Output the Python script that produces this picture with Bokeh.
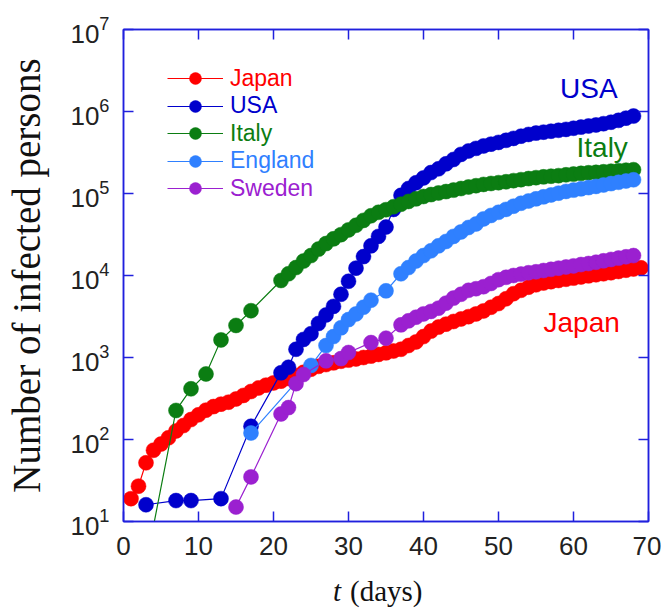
from bokeh.plotting import figure
from bokeh.layouts import column
from bokeh.models import (Legend, LegendItem, Label, LinearAxis, LogAxis,
                          FixedTicker, CustomJSTickFormatter, Range1d)
from bokeh.core.properties import value
from bokeh.embed import file_html
from bokeh.resources import INLINE

# ---------------- data ----------------
x_ticks = [0, 10, 20, 30, 40, 50, 60, 70]

japan_t = list(range(1, 70))
japan_n = [19, 27, 52, 74, 88, 105, 127, 148, 175, 200,
           228, 252, 270, 285, 312, 345, 385, 425, 460, 490,
           515, 555, 600, 660, 720, 780, 820, 860, 900, 930,
           960, 1000, 1040, 1090, 1140, 1200, 1260, 1400, 1550, 1800,
           2100, 2350, 2550, 2750, 2950, 3150, 3400, 3700, 4100, 4550,
           5200, 6000, 6600, 7200, 7700, 8100, 8400, 8700, 9000, 9300,
           9600, 9900, 10200, 10500, 10800, 11200, 11600, 12000, 12400]

usa_t = [3, 7, 9, 13, 17] + list(range(21, 69))
usa_n = [16, 18, 18, 19, 145,
         650, 760, 1260, 1660, 1950, 2600, 3300, 4200, 5900, 8500,
         12300, 17000, 23000, 30000, 39000, 64000, 95000, 115000, 135000, 155000,
         180000, 200000, 230000, 260000, 300000, 330000, 355000, 380000, 400000, 420000,
         445000, 470000, 500000, 525000, 545000, 560000, 575000, 590000, 605000, 625000,
         645000, 665000, 685000, 710000, 740000, 780000, 830000, 880000]

italy_t = [3, 7, 9, 11, 13, 15, 17] + list(range(21, 69))
italy_n = [3, 226, 415, 630, 1640, 2460, 3720,
           8700, 10500, 12500, 15000, 17500, 21000, 24500, 28000, 31500, 36000,
           41000, 47000, 53500, 59000, 63500, 69000, 74000, 80000, 86000, 92000,
           97000, 101500, 105500, 110000, 115000, 120000, 124500, 129000, 132500, 135500,
           139000, 143500, 147500, 152000, 156000, 159500, 162500, 165000, 169000, 172500,
           176000, 179000, 181000, 184000, 187000, 190000, 192500, 195000]

england_t = [17, 25, 27, 28, 29, 30, 31, 32, 33, 35, 37] + list(range(38, 69))
england_n = [120, 800, 1400, 1800, 2300, 2900, 3400, 4100, 5000, 6500, 10500,
             12500, 15000, 17500, 20000, 23000, 26000, 30000, 34000, 38500, 42500,
             49000, 54000, 59000, 64000, 70000, 76000, 81000, 86000, 91000, 96000,
             101000, 106000, 110000, 114000, 118000, 122000, 127000, 132000, 137000, 142000,
             147000]

sweden_t = [15, 17, 21, 22, 23, 24, 27, 29, 30, 33, 35] + list(range(37, 69))
sweden_n = [15, 35, 205, 245, 480, 620, 910, 970, 1150, 1520, 1720,
            2500, 2800, 3100, 3400, 3650, 4000, 4600, 5300, 5900, 6600,
            6900, 7300, 8000, 8900, 9500, 10000, 10400, 10800, 11100, 11500,
            11900, 12300, 12700, 13100, 13600, 14000, 14500, 15100, 15700, 16300,
            16900, 17500]

names = ["Japan", "USA", "Italy", "England", "Sweden"]
colors = ["#ff0000", "#0000cc", "#0b7d12", "#2f80ff", "#9b20d0"]
series = [(japan_t, japan_n), (usa_t, usa_n), (italy_t, italy_n),
          (england_t, england_n), (sweden_t, sweden_n)]

# ---------------- main figure ----------------
frame_color = "#2020dd"
sans = "Liberation Sans"
serif = "Liberation Serif"

x_range = Range1d(0, 70)
p = figure(frame_width=525, frame_height=492, x_range=x_range, y_range=(10, 1e7),
           y_axis_type="log", output_backend="svg", toolbar_location=None,
           title=None,
           min_border_left=123, min_border_right=13, min_border_top=29,
           min_border_bottom=45)
p.xgrid.visible = False
p.ygrid.visible = False
p.outline_line_color = frame_color
p.outline_line_width = 1.5
p.background_fill_color = "white"
p.border_fill_color = "white"

p.xaxis.ticker = FixedTicker(ticks=x_ticks)
for ax in (p.xaxis[0], p.yaxis[0]):
    ax.axis_line_color = frame_color
    ax.axis_line_width = 1.5
    ax.major_tick_in = 10
    ax.major_tick_out = 0
    ax.major_tick_line_color = frame_color
    ax.major_tick_line_width = 1.5
    ax.minor_tick_line_color = None
    ax.major_label_text_font = sans
    ax.major_label_text_font_size = "26px"
    ax.major_label_text_color = "#222222"
p.xaxis.major_label_standoff = 15
p.yaxis.major_label_standoff = 10
p.yaxis.axis_label = "Number of infected persons"
p.yaxis.axis_label_text_font = serif
p.yaxis.axis_label_text_font_style = "normal"
p.yaxis.axis_label_text_font_size = "39px"
p.yaxis.axis_label_text_color = "#111111"
p.yaxis.axis_label_standoff = 19

blank = CustomJSTickFormatter(code="return ''")
top_ax = LinearAxis(ticker=FixedTicker(ticks=x_ticks), formatter=blank)
right_ax = LogAxis(formatter=blank)
for ax in (top_ax, right_ax):
    ax.axis_line_color = frame_color
    ax.axis_line_width = 1.5
    ax.major_tick_in = 10
    ax.major_tick_out = 0
    ax.major_tick_line_color = frame_color
    ax.major_tick_line_width = 1.5
    ax.minor_tick_line_color = None
    ax.major_label_text_font_size = "0px"
    ax.major_label_standoff = 0
p.add_layout(top_ax, "above")
p.add_layout(right_ax, "right")

# ---------------- series ----------------
renderers = []
for (t, n), c in zip(series, colors):
    ln = p.line(t, n, line_color=c, line_width=1.2)
    sc = p.scatter(t, n, size=15, fill_color=c, line_color=c, line_width=0.5)
    renderers.append([ln, sc])

# ---------------- legend (one per entry, coloured text) ----------------
for i, (nm, c, rs) in enumerate(zip(names, colors, renderers)):
    lg = Legend(items=[LegendItem(label=nm, renderers=rs)],
                location=(44, 428 - 27.6 * i),
                padding=0, margin=0, spacing=0,
                glyph_width=56, glyph_height=30, label_height=30,
                label_standoff=7, label_text_font=sans,
                label_text_font_size="23px", label_text_color=c,
                border_line_color=None, background_fill_alpha=0)
    p.add_layout(lg)

# ---------------- annotations ----------------
p.add_layout(Label(x=58.2, y=1.92e6, text="USA", text_color=colors[1],
                   text_font=sans, text_font_size="28px",
                   text_baseline="alphabetic"))
p.add_layout(Label(x=60.4, y=3.6e5, text="Italy", text_color=colors[2],
                   text_font=sans, text_font_size="28px",
                   text_baseline="alphabetic"))
p.add_layout(Label(x=56.0, y=2700, text="Japan", text_color=colors[0],
                   text_font=sans, text_font_size="28px",
                   text_baseline="alphabetic"))

# ---------------- x-axis title strip ("t" italic + "(days)") ----------------
q = figure(frame_width=525, frame_height=42, x_range=x_range, y_range=(0, 42),
           x_axis_location=None, y_axis_location=None, title=None,
           output_backend="svg", toolbar_location=None,
           min_border_left=123, min_border_right=13, min_border_top=0,
           min_border_bottom=0, outline_line_color=None)
q.xgrid.visible = False
q.ygrid.visible = False
q.text(x=[29.0], y=[18], text=["t"], text_font=value(serif),
       text_font_style="italic", text_font_size="29px",
       text_color="#111111", text_baseline="alphabetic", text_align="right")
q.text(x=[30.2], y=[18], text=["(days)"], text_font=value(serif),
       text_font_size="29px", text_color="#111111",
       text_baseline="alphabetic", text_align="left")

layout = column(p, q, spacing=0)
open("out.html", "w").write(file_html(layout, INLINE))
